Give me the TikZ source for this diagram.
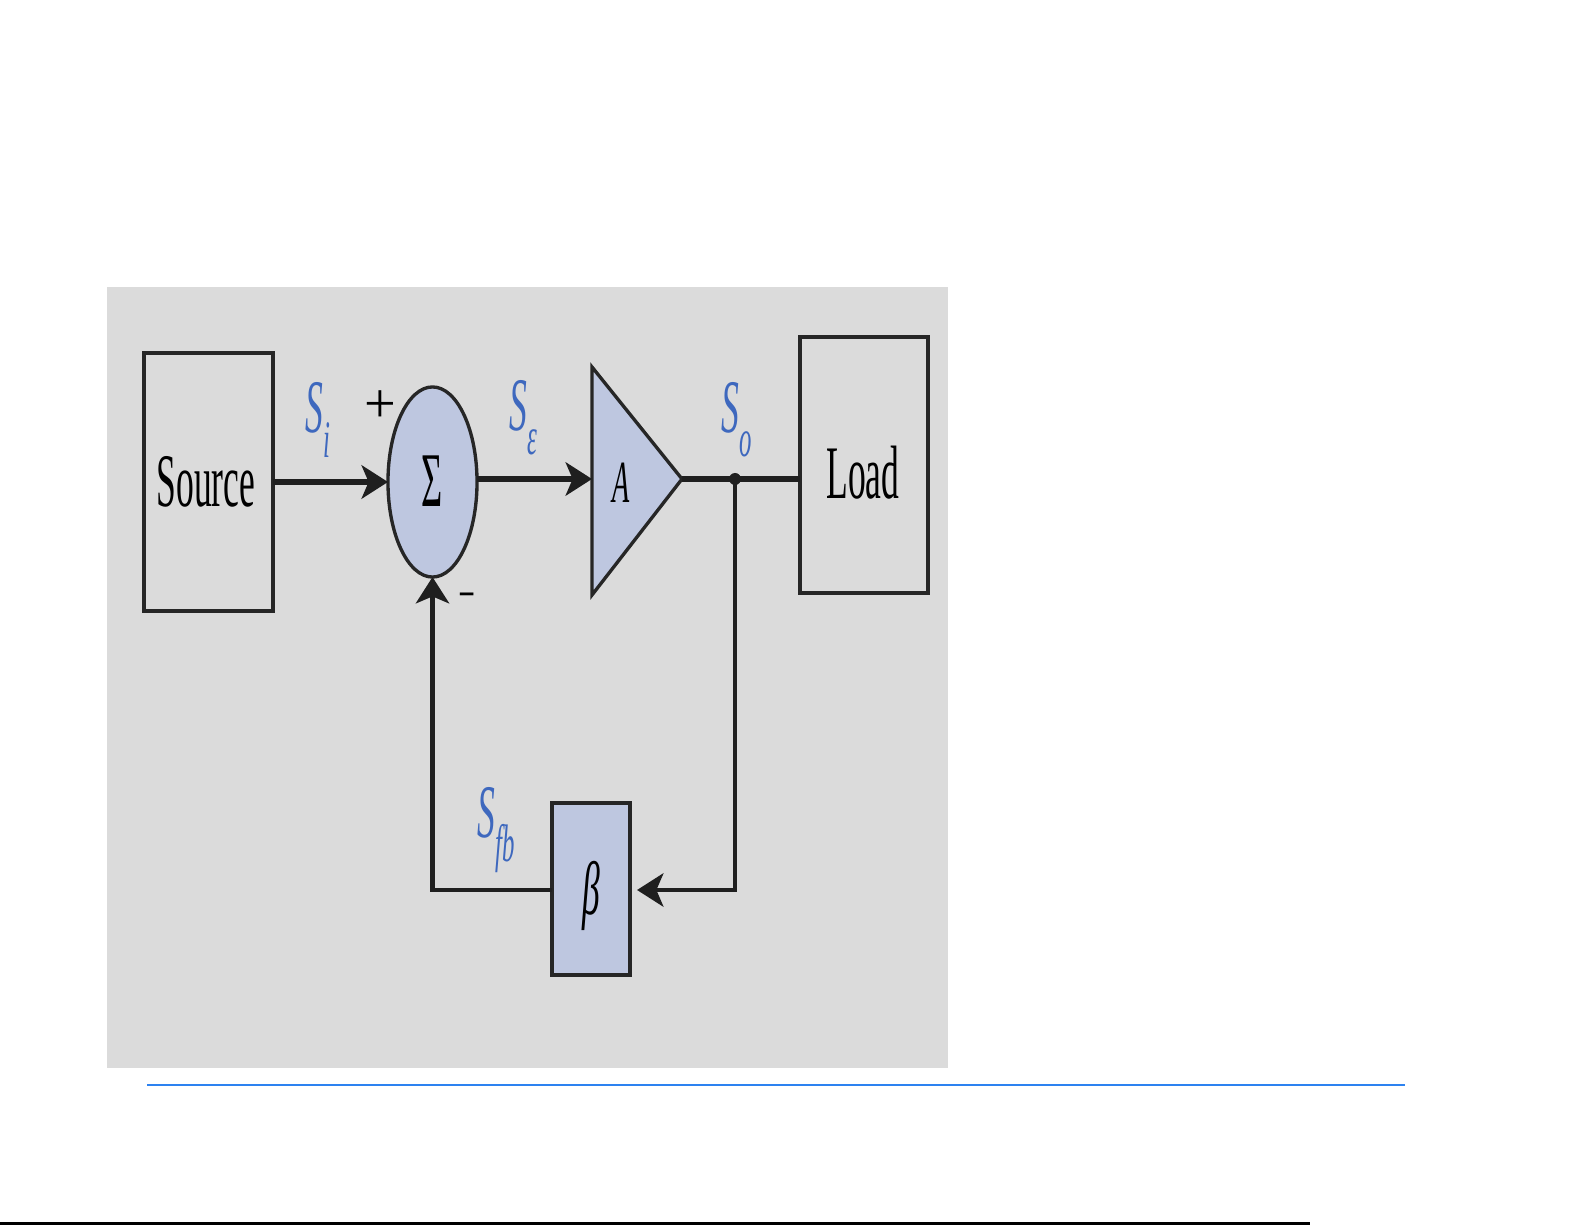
\documentclass[tikz,border=0pt]{standalone}
\usepackage{fontspec}
\usepackage{graphicx}
\setmainfont{Liberation Serif}
\usetikzlibrary{arrows.meta,shapes.geometric}
\definecolor{panelgray}{RGB}{219,219,219}
\definecolor{shade}{RGB}{190,199,224}
\definecolor{lbl}{RGB}{62,104,190}
\definecolor{rulecol}{RGB}{45,130,240}
\newcommand\narrowtxt[1]{\scalebox{0.47}[1]{#1}}
\begin{document}
\begin{tikzpicture}[x=0.01cm,y=-0.01cm,
  box/.style={draw=black!85, line width=0.95pt, inner sep=0pt, outer sep=0pt},
  shaded/.style={box, fill=shade},
  mainarrow/.style={line width=1.45pt, draw=black!88, -{Stealth[length=7.5pt,width=9.5pt,inset=2pt]}},
  fbline/.style={line width=1.15pt, draw=black!88},
  bigtxt/.style={font=\fontsize{21.5pt}{24pt}\selectfont, inner sep=0pt},
  sig/.style={font=\fontsize{21.5pt}{24pt}\selectfont\itshape, text=lbl, inner sep=0pt},
  sign/.style={font=\fontsize{16pt}{18pt}\selectfont, inner sep=0pt}]
\useasboundingbox (0,0) rectangle (1585,1225);
\fill[white] (0,0) rectangle (1585,1225);
% photo panel
\fill[panelgray] (107,287) rectangle (948,1068);
% blocks
\node[box, minimum width=1.29cm, minimum height=2.58cm] (src) at (208.5,482) {};
\node[bigtxt] (srctxt) at (206,482) {\narrowtxt{Source}};
\node[shaded, ellipse, minimum width=0.89cm, minimum height=1.90cm] (sum) at (432.5,482) {};
\node[font=\fontsize{22pt}{24pt}\selectfont, inner sep=0pt] (sumtxt) at (432,481) {\narrowtxt{Σ}};
\coordinate (Atop) at (592,367);
\coordinate (Abot) at (592,595);
\coordinate (Aout) at (682,479);
\coordinate (Ain) at (592,479);
\filldraw[fill=shade, draw=black!85, line width=0.95pt, line join=miter] (Atop) -- (Aout) -- (Abot) -- cycle;
\node[font=\fontsize{17pt}{20pt}\selectfont\itshape, inner sep=0pt] (Atxt) at (621,483) {\narrowtxt{A}};
\node[box, minimum width=1.28cm, minimum height=2.56cm] (load) at (864,465) {};
\node[bigtxt] (loadtxt) at (863,473) {\narrowtxt{Load}};
\node[shaded, minimum width=0.78cm, minimum height=1.72cm] (beta) at (591,889) {};
\node[font=\fontsize{21.5pt}{24pt}\selectfont\itshape, inner sep=0pt] (betatxt) at (591,896) {\narrowtxt{β}};
\coordinate (dot) at (735,479);
\coordinate (fbr) at (735,890);
\coordinate (fbl) at (432.5,890);
% connectors
\draw[mainarrow] (src.east |- sum.west) -- (sum.west);
\draw[mainarrow] (sum.east |- Ain) -- (Ain);
\draw[line width=1.45pt, draw=black!88] (Aout) -- (load.west |- Aout);
\fill[black!88] (dot) circle (6);
\draw[fbline, -{Stealth[length=7.5pt,width=9.5pt,inset=2pt]}, shorten >=2pt] (dot) -- (fbr) -- (beta.east |- fbr);
\draw[fbline, -{Stealth[length=7.5pt,width=9.5pt,inset=2pt]}] (beta.west |- fbl) -- (fbl) -- (sum.south);
% labels
\node[sig] (si) at (318,420) {\narrowtxt{S\raisebox{-0.32em}{\fontsize{15pt}{15pt}\selectfont i}}};
\node[sig] (se) at (523,418) {\narrowtxt{S\raisebox{-0.32em}{\fontsize{15pt}{15pt}\selectfont ε}}};
\node[sig] (so) at (737,420) {\narrowtxt{S\raisebox{-0.32em}{\fontsize{15pt}{15pt}\selectfont o}}};
\node[sig] (sfb) at (496,830) {\narrowtxt{S\raisebox{-0.32em}{\fontsize{15pt}{15pt}\selectfont fb}}};
\node[sign] (plus) at (380,407) {+};
\node[sign] (minus) at (467,600) {\narrowtxt{–}};
% rules
\draw[rulecol, line width=0.6pt] (147,1085) -- (1405,1085);
\draw[black, line width=0.6pt] (0,1223.5) -- (1310,1223.5);
\end{tikzpicture}
\end{document}
